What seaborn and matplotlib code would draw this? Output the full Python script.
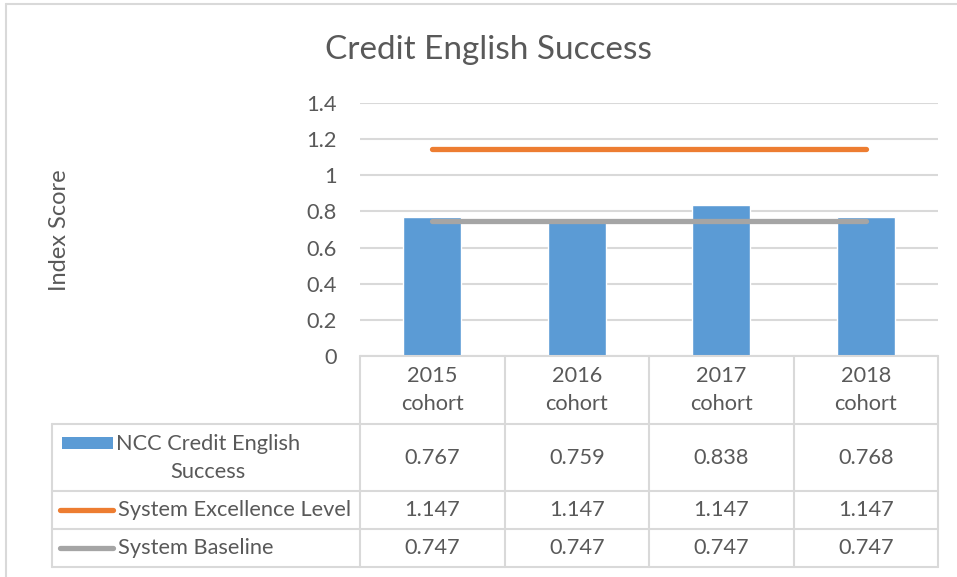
import matplotlib
matplotlib.use("Agg")
import matplotlib.pyplot as plt
import matplotlib.patches as mpatches
import seaborn as sns
import pandas as pd

# chart data
cohorts = ["2015\ncohort", "2016\ncohort", "2017\ncohort", "2018\ncohort"]
ncc_success = [0.767, 0.759, 0.838, 0.768]
excellence = [1.147, 1.147, 1.147, 1.147]
baseline = [0.747, 0.747, 0.747, 0.747]
series_names = ["NCC Credit English\nSuccess", "System Excellence Level", "System Baseline"]
y_ticks = [0, 0.2, 0.4, 0.6, 0.8, 1, 1.2, 1.4]

BLUE = "#5B9BD5"
ORANGE = "#ED7D31"
GREY = "#A5A5A5"
TEXT = "#595959"
RULE = "#D9D9D9"
FS = 15.7

sns.set_style("white")
plt.rcParams["font.family"] = ["Lato", "DejaVu Sans"]

W, H = 957, 577
fig = plt.figure(figsize=(W / 100, H / 100), dpi=100)

# plot area in pixels: x 360..938, y 103..356
px_l, px_r, px_t, px_b = 360, 938, 103, 356
ax = fig.add_axes([px_l / W, 1 - px_b / H, (px_r - px_l) / W, (px_b - px_t) / H])

df = pd.DataFrame({"cohort": cohorts, "value": ncc_success})
sns.barplot(data=df, x="cohort", y="value", color=BLUE, saturation=1,
            width=0.4, ax=ax)
sns.lineplot(x=cohorts, y=excellence, color=ORANGE, linewidth=3.8,
             solid_capstyle="round", sort=False, ax=ax)
sns.lineplot(x=cohorts, y=baseline, color=GREY, linewidth=3.8,
             solid_capstyle="round", sort=False, ax=ax)

ax.set_xlim(-0.5, 3.5)
ax.set_ylim(0, 1.4)
ax.set_yticks(y_ticks)
ax.set_yticklabels([f"{t:g}" for t in y_ticks])
ax.yaxis.grid(True, color=RULE, linewidth=1.5)
ax.set_axisbelow(True)
for s in ax.spines.values():
    s.set_visible(False)
ax.set_xlabel("")
ax.set_ylabel("")
ax.tick_params(axis="y", length=0, pad=17, labelsize=FS, labelcolor=TEXT)
ax.tick_params(axis="x", length=0, pad=7, labelsize=FS, labelcolor=TEXT)
for lbl in ax.get_xticklabels():
    lbl.set_linespacing(1.5)


# data table below the plot, in axes coordinates
def ax_x(px):
    return (px - px_l) / (px_r - px_l)


def ax_y(py):
    return (px_b - py) / (px_b - px_t)


col_edges = [52, 360, 505, 649, 794, 938]
row_edges = [356, 424, 491, 529, 567]
line_kw = dict(color=RULE, linewidth=1.5, transform=ax.transAxes, clip_on=False)

ax.plot([ax_x(360), ax_x(938)], [ax_y(356), ax_y(356)], **line_kw)
for ry in row_edges[1:]:
    ax.plot([ax_x(52), ax_x(938)], [ax_y(ry), ax_y(ry)], **line_kw)
ax.plot([ax_x(52), ax_x(52)], [ax_y(424), ax_y(567)], **line_kw)
for cx in col_edges[1:]:
    ax.plot([ax_x(cx), ax_x(cx)], [ax_y(356), ax_y(567)], **line_kw)

rows = [ncc_success, excellence, baseline]
for r, vals in enumerate(rows):
    yc = (row_edges[r + 1] + row_edges[r + 2]) / 2
    for c, v in enumerate(vals):
        xc = (col_edges[c + 1] + col_edges[c + 2]) / 2
        ax.text(ax_x(xc), ax_y(yc), f"{v:.3f}", transform=ax.transAxes,
                ha="center", va="center", fontsize=FS, color=TEXT)

# row labels with legend keys
y1 = (row_edges[1] + row_edges[2]) / 2
ax.add_patch(mpatches.Rectangle((ax_x(62), ax_y(449)), ax_x(113) - ax_x(62),
                                ax_y(437) - ax_y(449), transform=ax.transAxes,
                                facecolor=BLUE, edgecolor="none", clip_on=False))
ax.text(ax_x(208), ax_y(y1), series_names[0], transform=ax.transAxes,
        ha="center", va="center", multialignment="center", fontsize=FS,
        color=TEXT, linespacing=1.5)
for r, col in [(1, ORANGE), (2, GREY)]:
    yc = (row_edges[r + 1] + row_edges[r + 2]) / 2
    ax.plot([ax_x(60), ax_x(113)], [ax_y(yc), ax_y(yc)], color=col,
            linewidth=3.8, solid_capstyle="round", transform=ax.transAxes,
            clip_on=False)
    ax.text(ax_x(118), ax_y(yc), series_names[r], transform=ax.transAxes,
            ha="left", va="center", fontsize=FS, color=TEXT)

fig.text(488 / W, 1 - 50 / H, "Credit English Success", ha="center",
         va="center", fontsize=24, color=TEXT)
fig.text(60 / W, 1 - 230 / H, "Index Score", rotation=90, ha="center",
         va="center", fontsize=17, color=TEXT)

# chart frame edges
fig.add_artist(plt.Line2D([6 / W, 6 / W], [0, 1 - 4 / H], color=RULE,
                          linewidth=1.5, transform=fig.transFigure))
fig.add_artist(plt.Line2D([6 / W, 1], [1 - 4 / H, 1 - 4 / H], color=RULE,
                          linewidth=1.5, transform=fig.transFigure))

fig.savefig("out.png", dpi=100)
